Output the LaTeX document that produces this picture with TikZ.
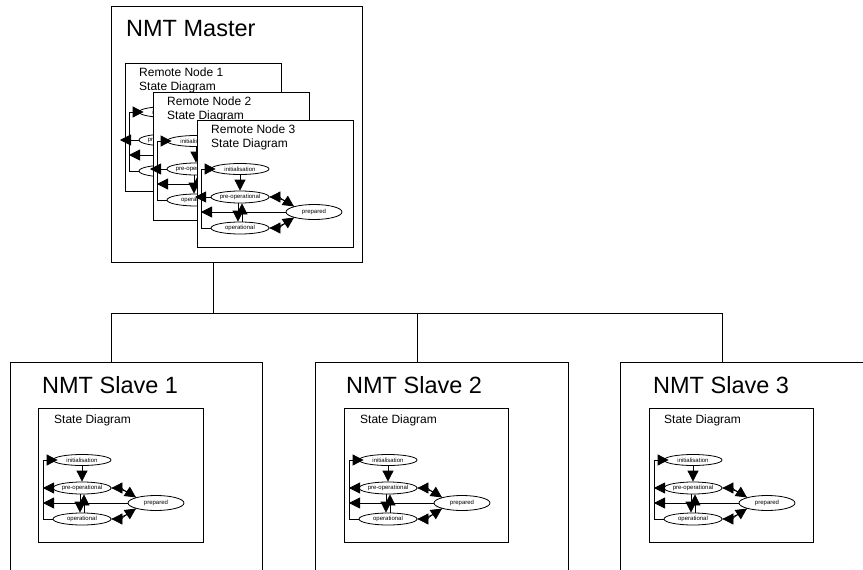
\documentclass[tikz,border=0pt]{standalone}
\usepackage{fontspec}
\setmainfont{Liberation Sans}
\usetikzlibrary{arrows.meta,shapes.geometric,calc}
\tikzset{
 box/.style={draw, line width=0.8pt, fill=white, inner sep=0pt},
 st/.style={draw, ellipse, fill=white, line width=0.8pt, minimum width=58pt, minimum height=12pt, inner sep=0pt, font=\fontsize{6}{7}\selectfont},
 arr/.style={line width=0.8pt, -{Triangle[length=11pt,width=11pt]}},
 ln/.style={line width=0.7pt},
 title/.style={anchor=base west, inner sep=0pt, font=\fontsize{23.5}{28}\selectfont},
 lbl/.style={anchor=base west, inner sep=0pt, font=\fontsize{12}{14}\selectfont},
}
\newcommand\sdiag[4]{%
 \node[st, minimum height=11pt] (#1i) at ({#2+39},{#3}) {initialisation};
 \node[st] (#1p) at ({#2+39},{#3+28}) {pre-operational};
 \node[st, minimum width=56pt, minimum height=15pt] (#1r) at ({#2+113},{#3+43}) {prepared};
 \node[st] (#1o) at ({#2+39},{#3+59}) {operational};
 \coordinate (#1lb) at ({#2},{#3+59});
 \coordinate (#1lt) at ({#2},{#3});
 \coordinate (#1lp) at ({#2-#4},{#3+28});
 \coordinate (#1lr) at ({#2},{#3+43});
 \draw[arr, shorten >=-5pt] (#1o.west) -- (#1lb) -- (#1lt) -- (#1i.west);
 \draw[arr] (#1i.south) -- (#1p.north);
 \draw[arr] (#1p.west) -- (#1lp);
 \draw[arr] (#1r.west) -- (#1lr);
 \draw[arr] ([xshift=-2pt]#1p.south) -- ([xshift=-2pt]#1o.north);
 \draw[arr] ([xshift=2pt]#1o.north) -- ([xshift=2pt]#1p.south);
 \draw[arr] (#1p.east) .. controls +(8,0) and +(-6,-4) .. (#1r.north west);
 \draw[arr] (#1r.north west) .. controls +(-6,-4) and +(8,0) .. (#1p.east);
 \draw[arr] (#1o.east) .. controls +(8,0) and +(-6,4) .. (#1r.south west);
 \draw[arr] (#1r.south west) .. controls +(-6,4) and +(8,0) .. (#1o.east);
}
\begin{document}
\begin{tikzpicture}[x=1pt,y=-1pt]
\useasboundingbox (0,0) rectangle (863,570);
\clip (0,0) rectangle (863,570);
\fill[white] (0,0) rectangle (863,570);
% master
\node[box, anchor=north west, minimum width=251pt, minimum height=256pt] (m) at (111,6) {};
\node[title] (mt) at (126,36) {NMT Master};
% remote node 1
\node[box, anchor=north west, minimum width=156pt, minimum height=128pt] (r1) at (125,63) {};
\node[lbl] (r1a) at (139,76) {Remote Node 1};
\node[lbl] (r1b) at (139,90) {State Diagram};
\sdiag{ra}{129}{112}{9}
% remote node 2
\node[box, anchor=north west, minimum width=156pt, minimum height=128pt] (r2) at (153,92) {};
\node[lbl] (r2a) at (167,105) {Remote Node 2};
\node[lbl] (r2b) at (167,119) {State Diagram};
\sdiag{rb}{157}{141}{7}
% remote node 3
\node[box, anchor=north west, minimum width=156pt, minimum height=127pt] (r3) at (197,120) {};
\node[lbl] (r3a) at (211,133) {Remote Node 3};
\node[lbl] (r3b) at (211,147) {State Diagram};
\sdiag{rc}{201}{169}{6}
% slaves
\node[box, anchor=north west, minimum width=252pt, minimum height=240pt] (s1) at (10,362) {};
\node[box, anchor=north west, minimum width=253pt, minimum height=240pt] (s2) at (315,362) {};
\node[box, anchor=north west, minimum width=260pt, minimum height=240pt] (s3) at (620,362) {};
\node[title] (s1t) at (42,393) {NMT Slave 1};
\node[title] (s2t) at (346,393) {NMT Slave 2};
\node[title] (s3t) at (653,393) {NMT Slave 3};
\node[box, anchor=north west, minimum width=165pt, minimum height=134pt] (i1) at (38,408) {};
\node[box, anchor=north west, minimum width=164pt, minimum height=134pt] (i2) at (344,408) {};
\node[box, anchor=north west, minimum width=164pt, minimum height=134pt] (i3) at (649,408) {};
\node[lbl] (i1t) at (54,423) {State Diagram};
\node[lbl] (i2t) at (360,423) {State Diagram};
\node[lbl] (i3t) at (664,423) {State Diagram};
\sdiag{sa}{43}{460}{0}
\sdiag{sb}{349}{460}{0}
\sdiag{sc}{654}{460}{0}
% bus
\coordinate (mb) at (213,262);
\coordinate (j0) at (213,313);
\coordinate (j1) at (111,313);
\coordinate (j2) at (417,313);
\coordinate (j3) at (722,313);
\draw[ln] (mb) -- (j0);
\draw[ln] (j1) -- (j3);
\draw[ln] (j1) -- (j1 |- s1.north);
\draw[ln] (j2) -- (j2 |- s2.north);
\draw[ln] (j3) -- (j3 |- s3.north);
\end{tikzpicture}
\end{document}
